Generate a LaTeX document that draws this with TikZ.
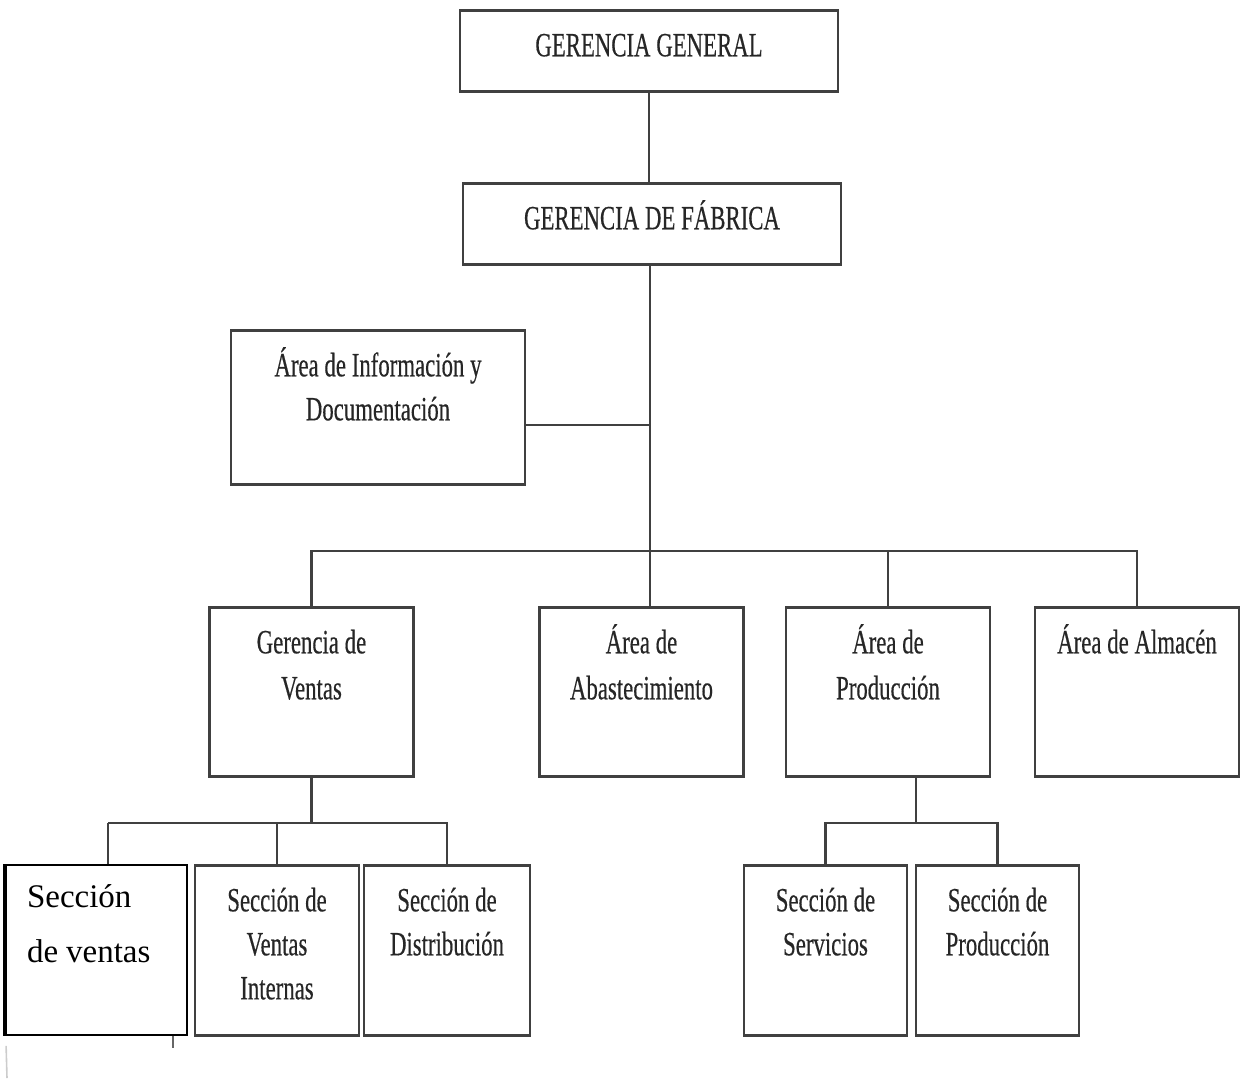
\documentclass[tikz,border=0pt]{standalone}
\usepackage{fontspec}
\setmainfont{Liberation Serif}
\newfontfamily\narrowfont[FakeStretch=0.67,FakeBold=0.4]{Liberation Serif}
\newcommand{\orgfont}[1]{\narrowfont\fontsize{17}{#1}\selectfont}
\newcommand{\pastefont}{\fontsize{16.5}{27.5}\selectfont}
\newcommand{\tightspace}[1]{\spaceskip=#1\relax\xspaceskip=#1\relax}

\begin{document}
\begin{tikzpicture}[x=0.5pt,y=-0.5pt]
	\tikzstyle{unit} = [draw=black!75, line width=1.3pt, anchor=north, align=center, inner xsep=0pt, inner ysep=0pt, text=black!85, text height=23pt, font=\orgfont{22}, execute at begin node={\tightspace{2.9pt}}]
	\tikzstyle{section} = [draw=black, line width=0.9pt, anchor=north, align=left, inner xsep=10.5pt, inner ysep=0pt, text width=69.5pt, text height=21.5pt, text depth=63.5pt, font=\pastefont, execute at begin node={\tightspace{4pt}}]
	\tikzset{link/.style = {draw=black!75, line width=1.2pt}}
	\useasboundingbox (0,0) rectangle (1243,1078);
	
	% top management
	\node[unit, text width=189pt, text depth=17.5pt](gg) at (649,9) {GERENCIA GENERAL};
	\node[unit, text width=189pt, text depth=17.5pt](gf) at (652,182) {GERENCIA DE FÁBRICA};
	\node[unit, text width=147pt, text depth=54pt](info) at (378,329) {Área de Información y\\Documentación};
	
	% areas
	\node[unit, text width=102pt, text depth=61.5pt, font=\orgfont{23}](gv) at (311.5,606) {Gerencia de\\Ventas};
	\node[unit, text width=102pt, text depth=61.5pt, font=\orgfont{23}](abast) at (641.5,606) {Área de\\Abastecimiento};
	\node[unit, text width=102pt, text depth=61.5pt, font=\orgfont{23}](prod) at (888,606) {Área de\\Producción};
	\node[unit, text width=102pt, text depth=61.5pt](alm) at (1137,606) {Área de Almacén};
	
	% sections
	\node[unit, text width=82pt, text depth=62pt](internas) at (277,864) {Sección de\\Ventas\\Internas};
	\node[unit, text width=83pt, text depth=62pt](dist) at (447,864) {Sección de\\Distribución};
	\node[unit, text width=81.5pt, text depth=62pt](serv) at (825.5,864) {Sección de\\Servicios};
	\node[unit, text width=81.5pt, text depth=62pt](secprod) at (997.5,864) {Sección de\\Producción};
	
	% connectors
	\coordinate (spine) at (650,551);
	\coordinate (infojoin) at (650,425);
	\coordinate (salesjoin) at (312,823);
	\coordinate (svdrop) at (108,823);
	\coordinate (prodjoin) at (916,823);
	
	\draw[link](gg.south) to (gg.south |- gf.north);
	\draw[link](gf.south -| spine) to (spine |- abast.north);
	\draw[link](infojoin -| info.east) to (infojoin);
	\draw[link](gv.north) |- (spine) -| (alm.north);
	\draw[link](prod.north) to (prod.north |- spine);
	
	\draw[link](gv.south) to (gv.south |- salesjoin);
	\draw[link](svdrop) to (svdrop -| dist.north) to (dist.north);
	\draw[link](internas.north) to (internas.north |- svdrop);
	\draw[link](prodjoin |- prod.south) to (prodjoin);
	\draw[link](serv.north) |- (prodjoin) -| (secprod.north);
	
	% pasted box on top
	\node[section](sv) at (96.5,864) {Sección\\de ventas};
	\draw[link](svdrop) to (svdrop |- sv.north);
	\draw[black, line width=2pt](sv.north west) to (sv.south west);
	\draw[black!60, line width=0.6pt](sv.south east) ++(-15,0) -- ++(0,12);
	\draw[black!20, line width=0.8pt](sv.south west) ++(1,10) -- (7,1078);
	
\end{tikzpicture}
\end{document}
